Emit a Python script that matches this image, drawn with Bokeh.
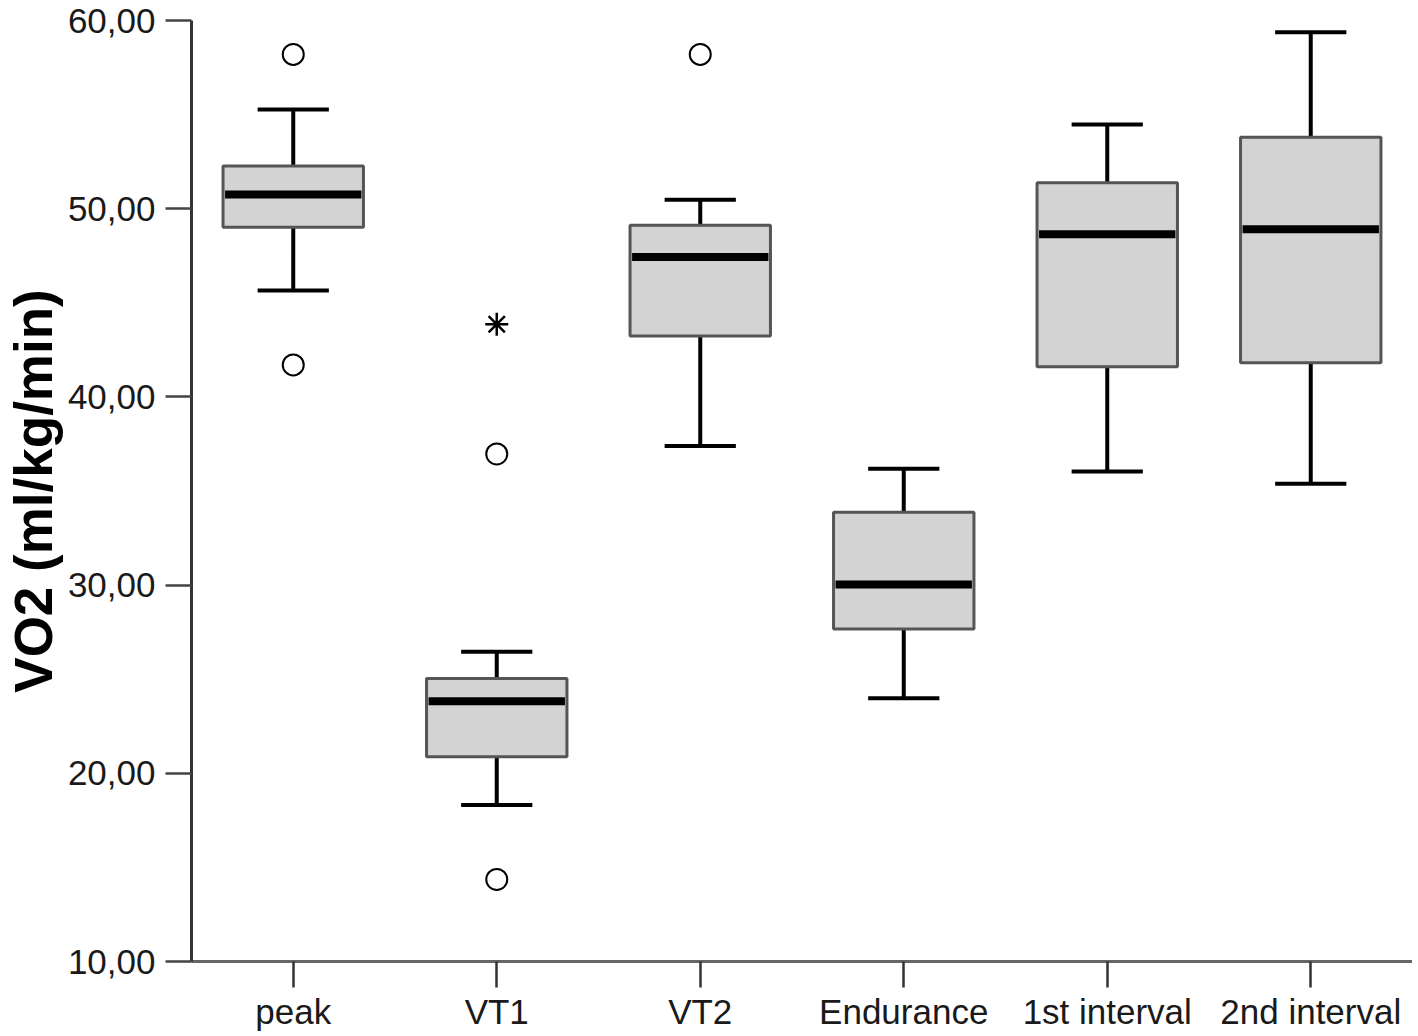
from bokeh.plotting import figure
from bokeh.models import FixedTicker, CustomJSTickFormatter, ColumnDataSource
from bokeh.transform import dodge
from bokeh.embed import file_html
from bokeh.resources import INLINE

categories = ["peak", "VT1", "VT2", "Endurance", "1st interval", "2nd interval"]
whisker_low = [45.65, 18.31, 37.39, 23.99, 36.03, 35.39]
q1 = [49.01, 20.88, 43.23, 27.67, 41.60, 41.81]
median = [50.75, 23.83, 47.43, 30.03, 48.64, 48.91]
q3 = [52.27, 25.04, 49.12, 33.87, 51.38, 53.80]
whisker_high = [55.27, 26.46, 50.48, 36.18, 54.48, 59.37]
outlier_cat = ["peak", "peak", "VT1", "VT1", "VT2"]
outlier_val = [58.2, 41.7, 36.97, 14.36, 58.2]
extreme_cat = ["VT1"]
extreme_val = [43.86]
y_ticks = [10, 20, 30, 40, 50, 60]

src = ColumnDataSource(dict(cat=categories, lo=whisker_low, q1=q1, med=median,
                            q3=q3, hi=whisker_high))

p = figure(x_range=categories, y_range=(10, 60), width=1412, height=1034,
           output_backend="svg", toolbar_location=None,
           min_border_left=191, min_border_top=20, min_border_bottom=73,
           min_border_right=0)
p.outline_line_color = None
p.grid.grid_line_color = None
p.background_fill_color = "white"

cap_l = dodge("cat", -0.175, range=p.x_range)
cap_r = dodge("cat", 0.175, range=p.x_range)
med_l = dodge("cat", -0.335, range=p.x_range)
med_r = dodge("cat", 0.335, range=p.x_range)

# whiskers
p.segment(x0="cat", y0="lo", x1="cat", y1="q1", source=src, line_color="black", line_width=4)
p.segment(x0="cat", y0="q3", x1="cat", y1="hi", source=src, line_color="black", line_width=4)
p.segment(x0=cap_l, y0="lo", x1=cap_r, y1="lo", source=src, line_color="black", line_width=4)
p.segment(x0=cap_l, y0="hi", x1=cap_r, y1="hi", source=src, line_color="black", line_width=4)
# boxes
p.vbar(x="cat", bottom="q1", top="q3", width=0.69, source=src, fill_color="#d3d3d3",
       line_color="#555555", line_width=3)
# medians
p.segment(x0=med_l, y0="med", x1=med_r, y1="med", source=src, line_color="black", line_width=8)
# outliers
p.scatter(x=outlier_cat, y=outlier_val, marker="circle", size=21, fill_color="white",
          line_color="black", line_width=2)
p.scatter(x=extreme_cat, y=extreme_val, marker="asterisk", size=23, line_color="black", line_width=2.5)

p.yaxis.ticker = FixedTicker(ticks=y_ticks)
p.yaxis.formatter = CustomJSTickFormatter(code="return tick.toFixed(2).replace('.', ',');")
p.yaxis.axis_label = "VO2 (ml/kg/min)"
p.yaxis.axis_label_text_font = "Liberation Sans"
p.yaxis.axis_label_text_font_style = "bold"
p.yaxis.axis_label_text_font_size = "53px"
p.yaxis.axis_label_text_color = "black"
p.yaxis.axis_label_standoff = 2

for ax in (p.xaxis, p.yaxis):
    ax.major_label_text_font = "Liberation Sans"
    ax.major_label_text_font_size = "35px"
    ax.major_label_text_color = "#1a1a1a"
    ax.major_tick_in = 0
    ax.major_tick_out = 26
    ax.minor_tick_line_color = None
    ax.major_tick_line_width = 2.5
    ax.axis_line_width = 3
p.yaxis.axis_line_color = "#333333"
p.yaxis.major_tick_line_color = "#444444"
p.xaxis.axis_line_color = "#666666"
p.xaxis.major_tick_line_color = "#333333"
p.yaxis.major_label_standoff = 10
p.xaxis.major_label_standoff = 4

open("out.html", "w").write(file_html(p, INLINE))
